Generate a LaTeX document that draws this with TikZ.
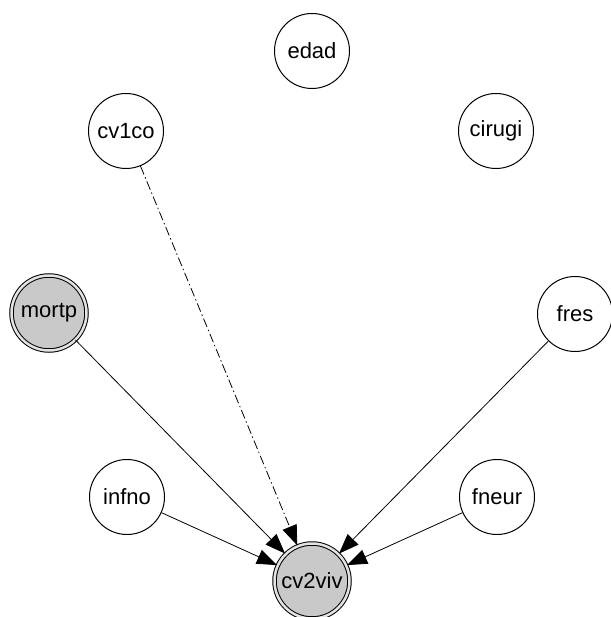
\documentclass[tikz,border=0pt]{standalone}
\usepackage{fontspec}
\setmainfont{Liberation Sans}
\usetikzlibrary{arrows.meta}
\begin{document}
\begin{tikzpicture}[x=1pt,y=-1pt,
  var/.style={circle, draw, line width=1pt, minimum size=75pt, inner sep=0pt,
    font=\fontsize{22}{26}\selectfont},
  observed/.style={var, fill=gray!42, double=gray!22, double distance=2.5pt},
  link/.style={line width=0.8pt, -{Triangle[length=20pt,width=15pt]}, shorten >=0.5pt},
  latentlink/.style={link, dash pattern=on 9pt off 3pt on 1.5pt off 3pt}]
  \useasboundingbox (0,0) rectangle (610,617);
  \node[var] (edad)   at (312,51)  {edad};
  \node[var] (cv1co)  at (126,131) {cv1co};
  \node[var] (cirugi) at (496,131) {cirugi};
  \node[observed] (mortp) at (49,313) {mortp};
  \node[var] (fres)   at (575,314) {fres};
  \node[var] (infno)  at (127,497) {infno};
  \node[var] (fneur)  at (497,497) {fneur};
  \node[observed] (cv2viv) at (312,581) {cv2viv};
  \draw[link] (mortp) -- (cv2viv);
  \draw[latentlink] (cv1co) -- (cv2viv);
  \draw[link] (infno) -- (cv2viv);
  \draw[link] (fres) -- (cv2viv);
  \draw[link] (fneur) -- (cv2viv);
\end{tikzpicture}
\end{document}
